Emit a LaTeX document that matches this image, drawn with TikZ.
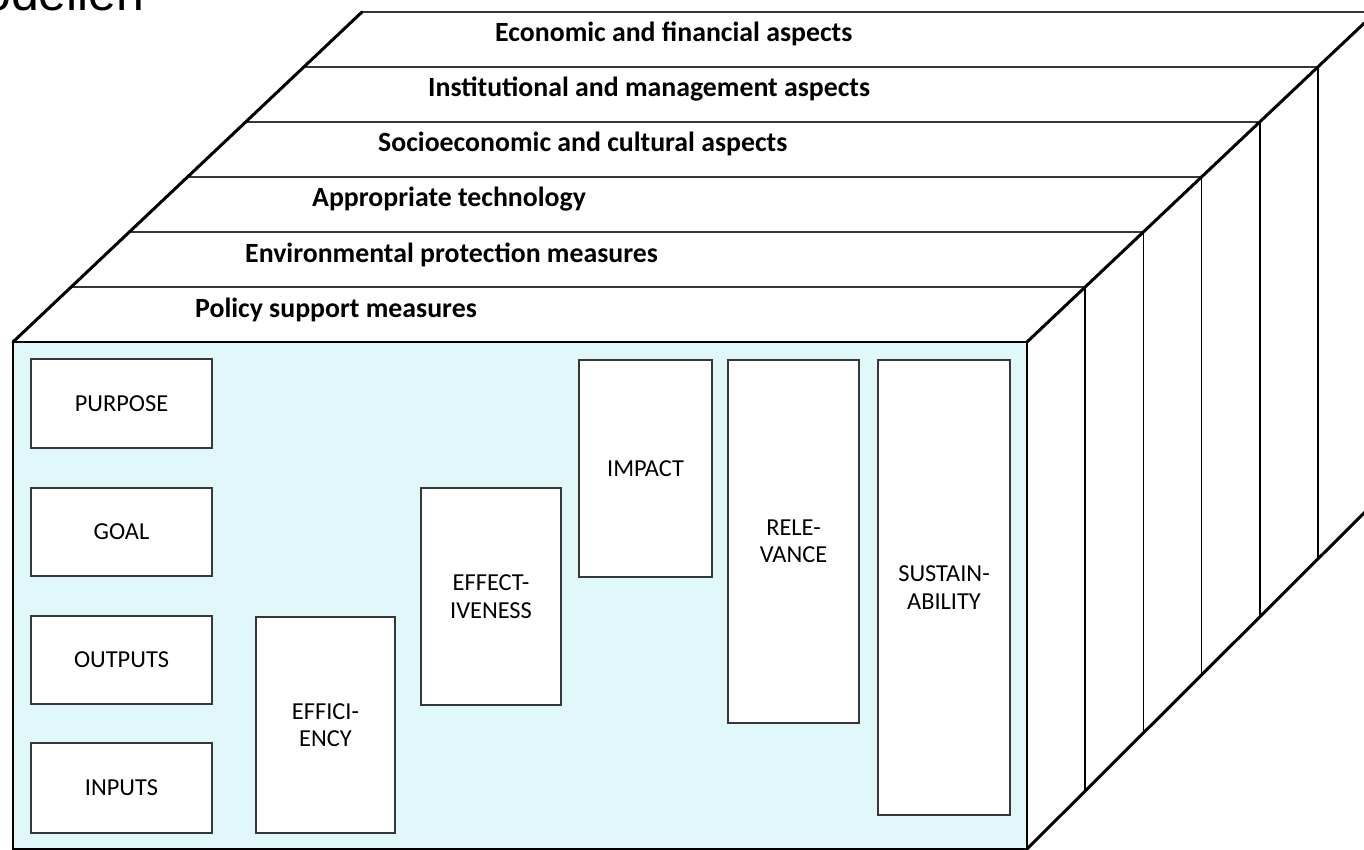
\documentclass[tikz,border=0pt]{standalone}
\usepackage{fontspec}
\setmainfont{Carlito}
\newfontfamily\titlefont{Liberation Sans}
\definecolor{facecyan}{RGB}{224,248,250}
\definecolor{boxgray}{RGB}{55,55,55}

\begin{document}
\begin{tikzpicture}[x=1pt,y=-1pt,
        critbox/.style={draw=boxgray, line width=2.2pt, fill=white, align=center, inner sep=0pt,
            font=\fontsize{24.4}{27.5}\selectfont},
        slabtext/.style={anchor=base west, inner sep=0pt, font=\bfseries\fontsize{27.8}{30}\selectfont},
        rimline/.style={line width=3pt, line cap=round},
        slabline/.style={line width=2pt, draw=boxgray}]
            \useasboundingbox (0,0) rectangle (1364,850);
            % cut title of the slide
            \node[anchor=base west, inner sep=0pt, font=\titlefont\fontsize{50}{50}\selectfont] (title) at (-17,10.5) {odelien};
            % slabs on top
            \foreach \k in {1,...,6}{
                \draw[slabline] ({13+58.2*\k},{342-55*\k})--({1027+58.2*\k},{342-55*\k});
            }
            \foreach \k in {1,...,5}{
                \draw[line width=1.6pt] ({1027+58.2*\k},{342-55*\k})--({1027+58.2*\k},{849-58*\k});
            }
            \foreach \k/\xs/\txt in {1/195/Policy support measures,2/245/Environmental protection measures,
                3/312/Appropriate technology,4/378/Socioeconomic and cultural aspects,
                5/428/Institutional and management aspects,6/495/Economic and financial aspects}{
                \node[slabtext] (slab\k) at (\xs,{342-55*\k+30}) {\txt};
            }
            % depth edges
            \draw[rimline] (13,342)--(362,12);
            \draw[rimline] (1027,342)--(1376,12);
            \draw[rimline] (1027,849)--(1376,501);
            % front face
            \draw[line width=2pt, fill=facecyan] (13,342) rectangle (1027,849);
            \foreach \nm/\xa/\ya/\xb/\yb/\txt in {purpose/31/359/212/448/PURPOSE,goal/31/488/212/576/GOAL,
                outputs/31/616/212/704/OUTPUTS,inputs/31/743/212/833/INPUTS,
                efficiency/256/617/395/833/{EFFICI-\\ENCY},effectiveness/421/488/561/705/{EFFECT-\\IVENESS},
                impact/579/360/712/577/IMPACT,relevance/728/360/859/723/{RELE-\\VANCE},
                sustainability/878/360/1010/815/{SUSTAIN-\\ABILITY}}{
                \node[critbox, minimum width={(\xb-\xa)*1pt}, minimum height={(\yb-\ya)*1pt}]
                    (\nm) at ({(\xa+\xb)/2},{(\ya+\yb)/2}) {\txt};
            }
        \end{tikzpicture}
\end{document}
